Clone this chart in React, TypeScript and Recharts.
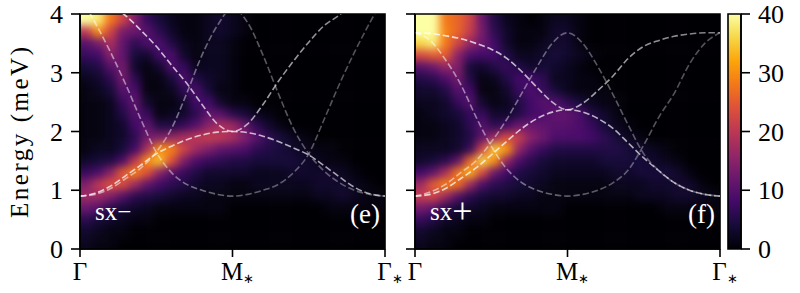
import { ComposedChart, BarChart, Bar, Line, Scatter, XAxis, YAxis, ReferenceArea } from 'recharts';

const FONT = '"Liberation Serif", serif';
const INK = '#000000';

const INFERNO = ['#000004', '#160b39', '#420a68', '#6a176e', '#932667', '#bc3754', '#dd513a', '#f37819', '#fca50a', '#f6d746', '#fcffa4'];

// heatmap bin centres
const MOMENTUM_BINS = [0.02, 0.06, 0.1, 0.14, 0.18, 0.22, 0.26, 0.3, 0.34, 0.38, 0.42, 0.46, 0.5, 0.54, 0.58, 0.62, 0.66, 0.7, 0.74, 0.78, 0.82, 0.86, 0.9, 0.94, 0.98];
const ENERGY_BINS = [3.9, 3.7, 3.5, 3.3, 3.1, 2.9, 2.7, 2.5, 2.3, 2.1, 1.9, 1.7, 1.5, 1.3, 1.1, 0.9, 0.7, 0.5, 0.3, 0.1];

const SX_MINUS_ROWS = [
  [40, 38, 28, 22, 14, 7, 4, 2, 1, 1, 2, 3, 2, 1, 0, 0, 0, 0, 0, 0, 0, 0, 0, 0, 0],
  [20, 30, 22, 13, 12, 10, 6, 3, 1, 1, 2, 3, 2, 1, 0, 0, 0, 0, 0, 0, 0, 0, 0, 0, 0],
  [10, 13, 18, 11, 6, 9, 9, 5, 2, 1, 2, 2, 1, 0, 0, 0, 0, 0, 0, 0, 0, 0, 0, 0, 0],
  [7, 8, 15, 11, 4, 3, 8, 9, 3, 1, 2, 2, 1, 0, 0, 0, 0, 0, 0, 0, 0, 0, 0, 0, 0],
  [4, 5, 10, 13, 3, 1, 3, 9, 7, 2, 2, 2, 1, 0, 0, 0, 0, 0, 0, 0, 0, 0, 0, 0, 0],
  [2, 3, 6, 13, 6, 1, 1, 4, 9, 5, 3, 2, 1, 0, 0, 0, 0, 0, 0, 0, 0, 0, 0, 0, 0],
  [1, 2, 4, 10, 9, 1, 1, 2, 6, 9, 4, 1, 1, 0, 0, 0, 0, 0, 0, 0, 0, 0, 0, 0, 0],
  [1, 1, 2, 7, 11, 3, 1, 1, 3, 8, 8, 3, 1, 1, 0, 0, 0, 0, 0, 0, 0, 0, 0, 0, 0],
  [1, 1, 2, 5, 10, 7, 1, 2, 3, 6, 11, 10, 6, 4, 2, 1, 0, 0, 0, 0, 0, 0, 0, 0, 0],
  [1, 1, 2, 3, 8, 11, 5, 5, 7, 10, 15, 18, 17, 12, 6, 3, 1, 0, 0, 0, 0, 0, 0, 0, 0],
  [1, 1, 2, 3, 6, 13, 14, 16, 18, 20, 21, 20, 18, 14, 10, 6, 4, 2, 1, 0, 0, 0, 0, 0, 0],
  [1, 2, 2, 4, 8, 18, 30, 29, 22, 17, 14, 11, 10, 9, 6, 5, 4, 3, 2, 1, 1, 0, 0, 0, 0],
  [3, 4, 5, 9, 20, 30, 34, 24, 14, 9, 7, 6, 5, 5, 4, 4, 4, 4, 3, 2, 1, 1, 0, 0, 0],
  [7, 9, 15, 25, 29, 24, 15, 10, 7, 5, 3, 3, 3, 3, 2, 2, 2, 3, 3, 3, 3, 2, 1, 0, 0],
  [14, 20, 24, 23, 17, 11, 8, 6, 5, 3, 2, 2, 1, 1, 2, 2, 2, 2, 2, 3, 3, 3, 2, 1, 0],
  [17, 17, 14, 10, 6, 5, 4, 3, 2, 2, 1, 1, 1, 1, 1, 1, 1, 1, 1, 2, 2, 3, 2, 1, 1],
  [12, 10, 6, 4, 3, 2, 1, 1, 1, 1, 1, 1, 0, 0, 0, 0, 0, 0, 0, 0, 1, 1, 1, 1, 1],
  [6, 4, 3, 2, 1, 1, 0, 0, 0, 0, 0, 0, 0, 0, 0, 0, 0, 0, 0, 0, 0, 0, 0, 0, 0],
  [3, 2, 1, 1, 0, 0, 0, 0, 0, 0, 0, 0, 0, 0, 0, 0, 0, 0, 0, 0, 0, 0, 0, 0, 0],
  [2, 1, 1, 0, 0, 0, 0, 0, 0, 0, 0, 0, 0, 0, 0, 0, 0, 0, 0, 0, 0, 0, 0, 0, 0],
];

const SX_PLUS_ROWS = [
  [40, 40, 28, 26, 22, 12, 5, 2, 1, 0, 1, 2, 2, 1, 0, 0, 0, 0, 0, 0, 0, 0, 0, 0, 0],
  [40, 40, 29, 26, 21, 13, 6, 3, 1, 1, 1, 3, 3, 1, 0, 0, 0, 0, 0, 0, 0, 0, 0, 0, 0],
  [36, 38, 28, 22, 16, 12, 8, 3, 1, 1, 2, 3, 3, 1, 0, 0, 0, 0, 0, 0, 0, 0, 0, 0, 0],
  [23, 25, 25, 15, 9, 8, 8, 5, 2, 2, 3, 4, 3, 2, 1, 0, 0, 0, 0, 0, 0, 0, 0, 0, 0],
  [10, 12, 16, 14, 4, 3, 5, 7, 5, 3, 4, 3, 2, 1, 0, 0, 0, 0, 0, 0, 0, 0, 0, 0, 0],
  [5, 6, 9, 13, 5, 1, 2, 5, 8, 8, 6, 2, 2, 1, 1, 0, 0, 0, 0, 0, 0, 0, 0, 0, 0],
  [3, 3, 5, 10, 8, 1, 1, 3, 7, 9, 7, 4, 2, 1, 1, 1, 0, 0, 0, 0, 0, 0, 0, 0, 0],
  [2, 2, 3, 7, 10, 3, 1, 2, 5, 8, 10, 9, 6, 4, 2, 1, 1, 0, 0, 0, 0, 0, 0, 0, 0],
  [1, 2, 3, 4, 7, 7, 3, 3, 5, 8, 9, 11, 11, 9, 5, 3, 1, 0, 0, 0, 0, 0, 0, 0, 0],
  [1, 1, 2, 3, 6, 10, 6, 8, 12, 12, 11, 10, 10, 9, 7, 4, 2, 1, 0, 0, 0, 0, 0, 0, 0],
  [1, 1, 2, 3, 5, 11, 17, 23, 21, 15, 12, 9, 9, 9, 8, 6, 4, 2, 1, 0, 0, 0, 0, 0, 0],
  [2, 2, 2, 3, 7, 22, 35, 31, 16, 10, 7, 5, 5, 5, 5, 5, 5, 4, 3, 2, 1, 0, 0, 0, 0],
  [3, 4, 6, 11, 26, 36, 30, 16, 9, 6, 4, 3, 3, 3, 3, 4, 4, 4, 4, 3, 2, 1, 0, 0, 0],
  [8, 11, 18, 28, 33, 23, 12, 8, 5, 4, 3, 2, 2, 2, 2, 2, 3, 3, 4, 4, 4, 3, 1, 0, 0],
  [17, 25, 29, 27, 17, 9, 6, 5, 4, 3, 2, 1, 1, 1, 1, 1, 2, 2, 2, 3, 3, 3, 3, 1, 0],
  [21, 22, 17, 10, 6, 4, 3, 3, 2, 2, 1, 1, 1, 1, 1, 1, 1, 1, 2, 2, 2, 3, 3, 2, 1],
  [13, 11, 6, 4, 3, 2, 1, 1, 1, 1, 1, 1, 0, 0, 0, 0, 0, 0, 0, 0, 1, 1, 1, 1, 1],
  [7, 5, 3, 2, 1, 1, 0, 0, 0, 0, 0, 0, 0, 0, 0, 0, 0, 0, 0, 0, 0, 0, 0, 0, 0],
  [3, 2, 1, 1, 0, 0, 0, 0, 0, 0, 0, 0, 0, 0, 0, 0, 0, 0, 0, 0, 0, 0, 0, 0, 0],
  [2, 1, 1, 0, 0, 0, 0, 0, 0, 0, 0, 0, 0, 0, 0, 0, 0, 0, 0, 0, 0, 0, 0, 0, 0],
];

// band curves, sampled along the path
const PATH_K = [0, 0.05, 0.1, 0.15, 0.2, 0.25, 0.3, 0.35, 0.4, 0.45, 0.5, 0.55, 0.6, 0.65, 0.7, 0.75, 0.8, 0.85, 0.9, 0.95, 1];

const MINUS_BAND_A = [0.9, 0.95, 1.07, 1.25, 1.43, 1.62, 1.75, 1.86, 1.94, 1.99, 2.0, 1.98, 1.92, 1.83, 1.72, 1.6, 1.42, 1.23, 1.05, 0.94, 0.9];
const MINUS_BAND_B = [0.9, 0.93, 1.03, 1.2, 1.38, 1.65, 2.05, 2.65, 3.3, 3.8, 4.1, 3.85, 3.3, 2.65, 2.05, 1.62, 1.33, 1.13, 1.0, 0.93, 0.9];
const MINUS_BAND_C = [4.3, 4.28, 4.15, 3.97, 3.72, 3.45, 3.13, 2.82, 2.46, 2.13, 2.0, 2.13, 2.46, 2.85, 3.2, 3.52, 3.8, 3.98, 4.2, 4.28, 4.3];
const MINUS_BAND_D = [4.3, 3.85, 3.35, 2.8, 2.2, 1.65, 1.3, 1.1, 1.0, 0.93, 0.9, 0.93, 1.0, 1.1, 1.3, 1.62, 2.2, 2.8, 3.35, 3.85, 4.3];

const PLUS_BAND_A = [0.9, 0.93, 1.03, 1.2, 1.38, 1.6, 1.83, 2.05, 2.22, 2.33, 2.37, 2.33, 2.22, 2.05, 1.8, 1.55, 1.33, 1.13, 1.0, 0.93, 0.9];
const PLUS_BAND_B = [0.9, 0.97, 1.1, 1.3, 1.5, 1.82, 2.2, 2.65, 3.1, 3.5, 3.68, 3.5, 3.1, 2.62, 2.1, 1.62, 1.33, 1.13, 1.0, 0.93, 0.9];
const PLUS_BAND_C = [3.68, 3.67, 3.63, 3.58, 3.5, 3.4, 3.25, 3.02, 2.75, 2.5, 2.37, 2.48, 2.7, 2.95, 3.25, 3.45, 3.55, 3.62, 3.66, 3.68, 3.68];
const PLUS_BAND_D = [3.68, 3.55, 3.22, 2.8, 2.25, 1.75, 1.37, 1.13, 1.0, 0.93, 0.9, 0.93, 1.0, 1.13, 1.35, 1.77, 2.25, 2.65, 3.15, 3.5, 3.68];

const ENERGY_TICKS = [0, 1, 2, 3, 4];
const PATH_TICKS = [0, 0.5, 1];
const PATH_LABELS = ['Γ', 'M', 'Γ'];
const PATH_SUBS = ['', '∗', '∗'];
const COLORBAR_TICKS = [0, 10, 20, 30, 40];

// how strong each band's dashes are at the left, middle and right of the path
const BAND_FADE = [
  [0.75, 0.7, 0.6],
  [0.55, 0.35, 0.32],
  [0.8, 0.65, 0.5],
  [0.55, 0.35, 0.32],
];

const inferno = (value: number) => {
  const t = Math.min(Math.max(value / 40, 0), 1) * (INFERNO.length - 1);
  const i = Math.min(Math.floor(t), INFERNO.length - 2);
  const mix = (a: string, b: string, pos: number) =>
    Math.round(parseInt(a.slice(pos, pos + 2), 16) * (1 - (t - i)) + parseInt(b.slice(pos, pos + 2), 16) * (t - i));
  return `rgb(${mix(INFERNO[i], INFERNO[i + 1], 1)},${mix(INFERNO[i], INFERNO[i + 1], 3)},${mix(INFERNO[i], INFERNO[i + 1], 5)})`;
};

const toCells = (rows: number[][]) =>
  rows.flatMap((row, r) => row.map((value, c) => ({ k: MOMENTUM_BINS[c], energy: ENERGY_BINS[r], value, r, c })));

const HeatCell = (props: any) => {
  const { cx, cy, payload } = props;
  const w = 12.2;
  const h = 11.75;
  // outer cells run past the frame so the blur does not fade at the edges
  const left = payload.c === 0 ? 16 : 0;
  const right = payload.c === MOMENTUM_BINS.length - 1 ? 16 : 0.5;
  const top = payload.r === 0 ? 16 : 0;
  const bottom = payload.r === ENERGY_BINS.length - 1 ? 16 : 0.5;
  return (
    <rect
      x={cx - w / 2 - left}
      y={cy - h / 2 - top}
      width={w + left + right}
      height={h + top + bottom}
      fill={inferno(payload.value)}
    />
  );
};

const PathTick = (props: any) => {
  const { x, y, index } = props;
  const sub = PATH_SUBS[index];
  return (
    <text x={x + (sub ? 5 : 0)} y={y + 21} textAnchor="middle" fontFamily={FONT} fontSize={25} fill={INK}>
      {PATH_LABELS[index]}
      {sub && (
        <tspan fontSize={13} dy={3}>
          {sub}
        </tspan>
      )}
    </text>
  );
};

interface PanelProps {
  id: string;
  rows: number[][];
  bands: number[][];
  tag: string;
  sign: string;
  signSize: number;
  signDrop: number;
  labelled: boolean;
  left: number;
  width: number;
}

function Panel({ id, rows, bands, tag, sign, signSize, signDrop, labelled, left, width }: PanelProps) {
  const plotLeft = labelled ? 80 : 15;
  return (
    <div style={{ position: 'absolute', left, top: 0 }}>
      <ComposedChart
        width={width}
        height={293}
        margin={{ top: 14, right: width - plotLeft - 305, bottom: 14, left: plotLeft - 15 }}
      >
        <defs>
          <clipPath id={`clip-${id}`}>
            <rect x={plotLeft} y={14} width={305} height={235} />
          </clipPath>
          {BAND_FADE.map((fade, b) => (
            <linearGradient key={b} id={`fade-${id}-${b}`} x1="0" y1="0" x2="1" y2="0">
              <stop offset="0" stopColor="#fff" stopOpacity={fade[0]} />
              <stop offset="0.5" stopColor="#fff" stopOpacity={fade[1]} />
              <stop offset="1" stopColor="#fff" stopOpacity={fade[2]} />
            </linearGradient>
          ))}
        </defs>
        <XAxis
          type="number"
          dataKey="k"
          domain={[0, 1]}
          ticks={PATH_TICKS}
          height={30}
          tickSize={8}
          tick={<PathTick />}
          interval={0}
          axisLine={{ stroke: INK, strokeWidth: 1.6 }}
          tickLine={{ stroke: INK, strokeWidth: 1.6 }}
        />
        <YAxis
          type="number"
          dataKey="energy"
          domain={[0, 4]}
          ticks={ENERGY_TICKS}
          allowDataOverflow
          width={15}
          tickSize={9}
          tickMargin={8}
          interval={0}
          tickFormatter={(v: number) => (labelled ? String(v) : '')}
          tick={{ fontFamily: FONT, fontSize: 26, fill: INK }}
          axisLine={{ stroke: INK, strokeWidth: 1.6 }}
          tickLine={{ stroke: INK, strokeWidth: 1.6 }}
        />
        <Scatter className={`heat-${id}`} zIndex={-50} data={toCells(rows)} shape={<HeatCell />} isAnimationActive={false} />
        {bands.map((band, b) => (
          <Line
            key={b}
            data={PATH_K.map((k, i) => ({ k, e: band[i] }))}
            dataKey="e"
            type="monotone"
            stroke={`url(#fade-${id}-${b})`}
            strokeWidth={1.6}
            strokeDasharray="6.5 2.8"
            dot={false}
            activeDot={false}
            isAnimationActive={false}
          />
        ))}
        <ReferenceArea y1={0} y2={4} fill="none" stroke={INK} strokeWidth={1.6} />
        <text x={plotLeft + 15} y={220} fontFamily={FONT} fontSize={25} fill="#fff">
          sx
          <tspan fontSize={signSize} dy={signDrop}>
            {sign}
          </tspan>
        </text>
        <text x={plotLeft + 300} y={223} textAnchor="end" fontFamily={FONT} fontSize={27} fill="#fff">
          {tag}
        </text>
        {labelled && (
          <text
            x={28}
            y={132.5}
            transform="rotate(-90 28 132.5)"
            textAnchor="middle"
            fontFamily={FONT}
            fontSize={25}
            textLength={171}
            fill={INK}
          >
            Energy (meV)
          </text>
        )}
      </ComposedChart>
    </div>
  );
}

const COLORBAR_DATA = [{ name: 'intensity', level: 40 }];

function Colorbar() {
  return (
    <div style={{ position: 'absolute', left: 720, top: 0 }}>
      <BarChart width={80} height={293} data={COLORBAR_DATA} barCategoryGap={0} margin={{ top: 14, right: 0, bottom: 44, left: 8 }}>
        <defs>
          <linearGradient id="infernoBar" x1="0" y1="1" x2="0" y2="0">
            {INFERNO.map((c, i) => (
              <stop key={c} offset={i / (INFERNO.length - 1)} stopColor={c} />
            ))}
          </linearGradient>
        </defs>
        <XAxis dataKey="name" hide />
        <YAxis
          orientation="right"
          domain={[0, 40]}
          ticks={COLORBAR_TICKS}
          width={59}
          tickSize={9}
          tickMargin={8}
          interval={0}
          tick={{ fontFamily: FONT, fontSize: 26, fill: INK, textAnchor: 'start' }}
          axisLine={{ stroke: INK, strokeWidth: 1.6 }}
          tickLine={{ stroke: INK, strokeWidth: 1.6 }}
        />
        <Bar dataKey="level" fill="url(#infernoBar)" stroke={INK} strokeWidth={1.6} isAnimationActive={false} />
      </BarChart>
    </div>
  );
}

export default function App() {
  return (
    <div style={{ position: 'absolute', left: 0, top: 0, width: 800, height: 293, background: '#fff', overflow: 'hidden' }}>
      <style>{`
        .heat-e { filter: blur(4.5px); clip-path: url(#clip-e); }
        .heat-f { filter: blur(4.5px); clip-path: url(#clip-f); }
      `}</style>
      <Panel
        id="e"
        rows={SX_MINUS_ROWS}
        bands={[MINUS_BAND_A, MINUS_BAND_B, MINUS_BAND_C, MINUS_BAND_D]}
        tag="(e)"
        sign="−"
        signSize={25}
        signDrop={0}
        labelled
        left={0}
        width={412}
      />
      <Panel
        id="f"
        rows={SX_PLUS_ROWS}
        bands={[PLUS_BAND_A, PLUS_BAND_B, PLUS_BAND_C, PLUS_BAND_D]}
        tag="(f)"
        sign="+"
        signSize={36}
        signDrop={3}
        labelled={false}
        left={400}
        width={345}
      />
      <Colorbar />
    </div>
  );
}
